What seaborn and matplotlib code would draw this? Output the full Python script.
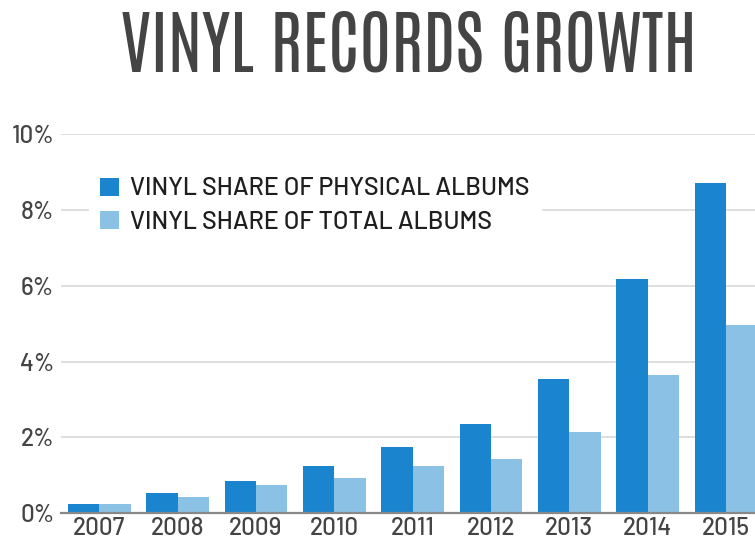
import matplotlib
matplotlib.use("Agg")
import matplotlib.pyplot as plt
import seaborn as sns
import pandas as pd
from matplotlib.patches import Patch
from matplotlib.ticker import FuncFormatter

years = ["2007", "2008", "2009", "2010", "2011", "2012", "2013", "2014", "2015"]
physical_share = [0.24, 0.53, 0.85, 1.25, 1.75, 2.36, 3.55, 6.17, 8.70]
total_share = [0.24, 0.44, 0.75, 0.94, 1.25, 1.44, 2.14, 3.65, 4.96]
series_names = ["VINYL SHARE OF PHYSICAL ALBUMS", "VINYL SHARE OF TOTAL ALBUMS"]

DARK = "#1a85ce"
LIGHT = "#8cc1e6"

df = pd.DataFrame({
    "Year": years * 2,
    "Share": physical_share + total_share,
    "Series": [series_names[0]] * len(years) + [series_names[1]] * len(years),
})

sns.set_theme(style="white")
FONT = ["Barlow", "DejaVu Sans"]
TITLE_FONT = ["Antonio", "Barlow Condensed", "DejaVu Sans"]
plt.rcParams["font.family"] = FONT

fig = plt.figure(figsize=(7.55, 5.39), dpi=100)
ax = fig.add_axes([0.081, 0.0477, 0.919, 0.7037])

sns.barplot(data=df, x="Year", y="Share", hue="Series",
            palette=[DARK, LIGHT], width=0.8, ax=ax, legend=False,
            saturation=1, linewidth=0, zorder=2)

ax.set_xlim(-0.485, 8.37)
ax.set_ylim(0, 10)
ax.set_yticks([0, 2, 4, 6, 8, 10])
ax.yaxis.set_major_formatter(FuncFormatter(lambda v, _: f"{v:.0f}%"))
ax.grid(axis="y", color="#d9d9d9", linewidth=1.2, zorder=0)
ax.set_axisbelow(True)
ax.set_xlabel("")
ax.set_ylabel("")
for side in ["top", "right", "left"]:
    ax.spines[side].set_visible(False)
ax.spines["bottom"].set_color("#888888")
ax.spines["bottom"].set_linewidth(1.6)
ax.tick_params(axis="both", length=0, labelsize=17.5, colors="#444444")
ax.tick_params(axis="x", pad=3)
ax.tick_params(axis="y", pad=5)
for lab in ax.get_xticklabels() + ax.get_yticklabels():
    lab.set_fontweight("medium")

handles = [Patch(facecolor=DARK, edgecolor="none"),
           Patch(facecolor=LIGHT, edgecolor="none")]
leg = ax.legend(handles, series_names, loc="upper left",
                bbox_to_anchor=(0.04, 0.915), frameon=True,
                prop={"family": FONT, "size": 18, "weight": "medium"},
                handlelength=0.75, handleheight=0.75, handletextpad=0.45,
                labelspacing=0.42, borderpad=0.45, borderaxespad=0)
leg.get_frame().set_facecolor("white")
leg.get_frame().set_edgecolor("white")
leg.get_frame().set_alpha(1)
for t in leg.get_texts():
    t.set_color("#1e1e1e")

fig.text(0.541, 0.914, "VINYL RECORDS GROWTH", ha="center", va="center",
         fontsize=50, color="#444444", family=TITLE_FONT)

fig.savefig("out.png", dpi=100)
